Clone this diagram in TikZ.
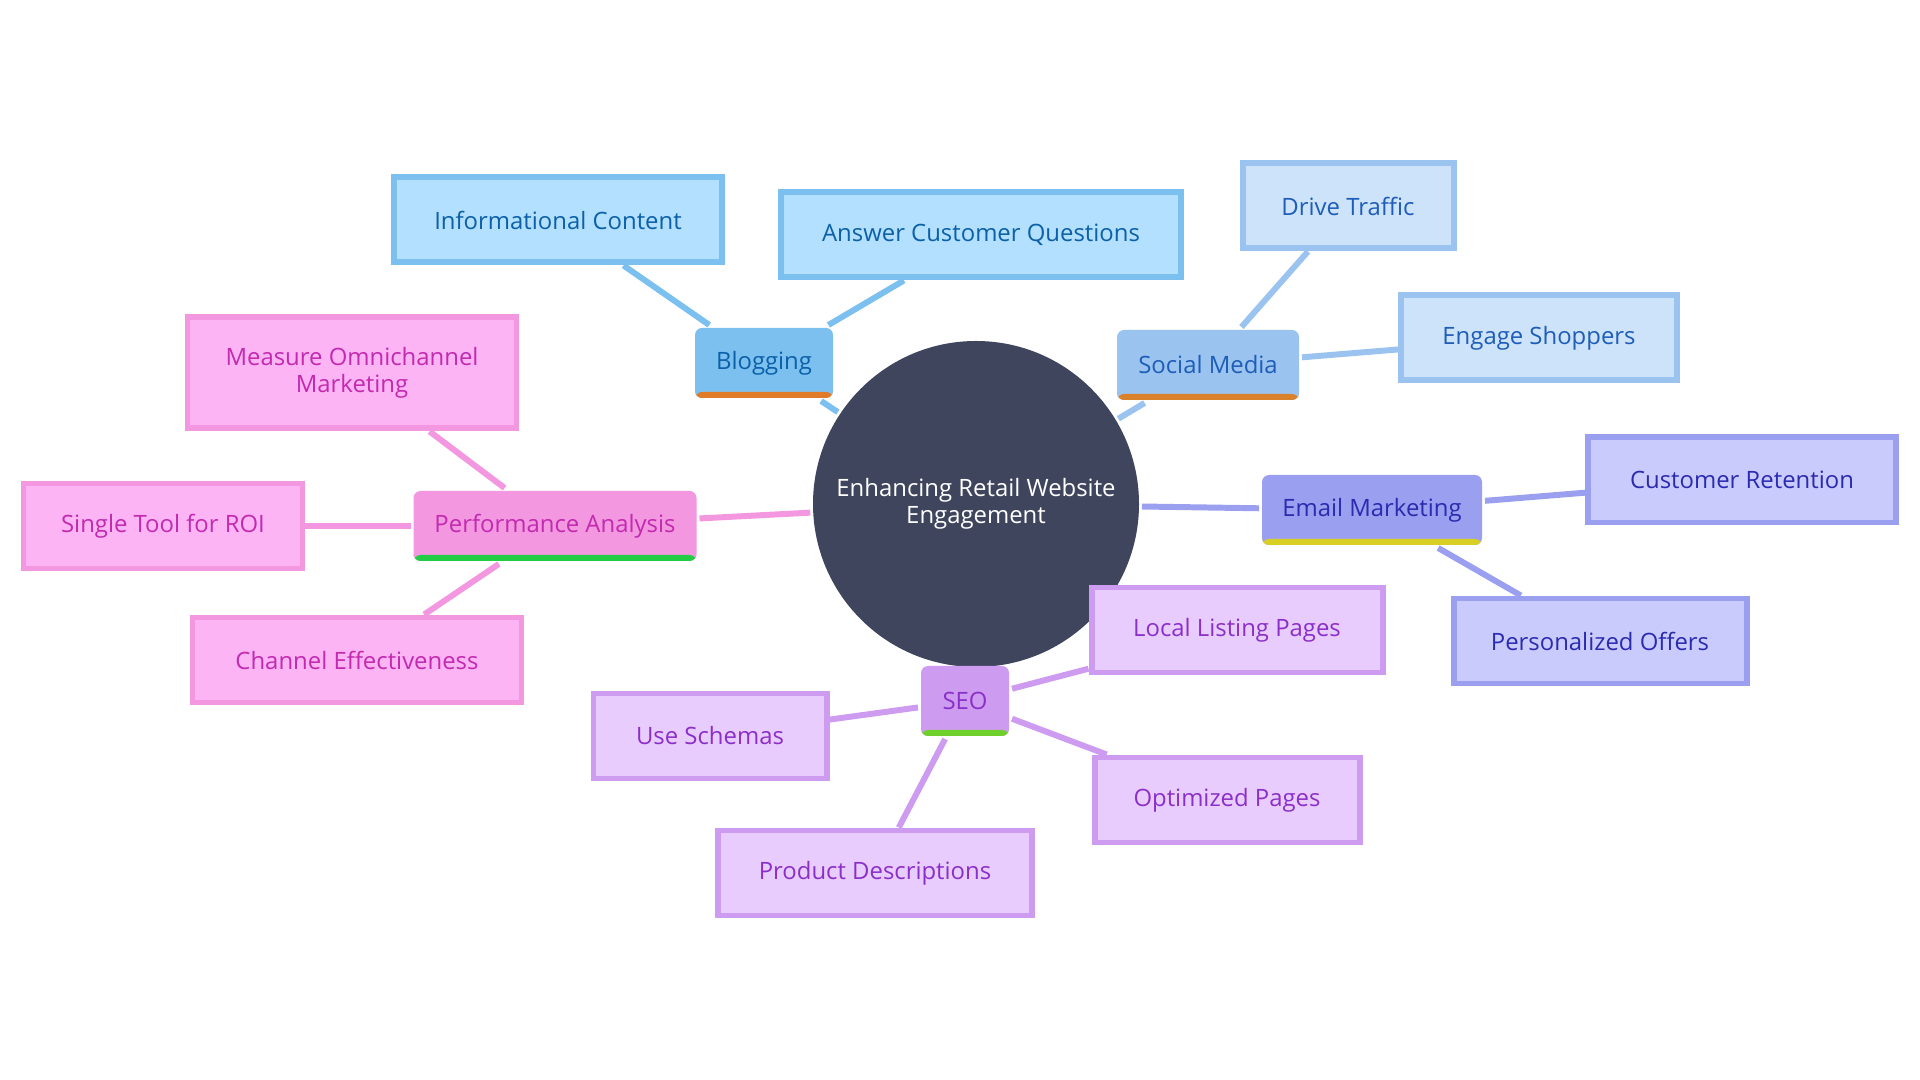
\documentclass[tikz,border=0pt]{standalone}
\usepackage{fontspec}
\setmainfont{Open Sans}
\usetikzlibrary{backgrounds}

\definecolor{rootfill}{HTML}{40455E}
\definecolor{blogfill}{HTML}{7CC0F0}
\definecolor{blogleaf}{HTML}{B3E0FF}
\definecolor{blogtext}{HTML}{0B60A8}
\definecolor{blogbar}{HTML}{E07B2A}
\definecolor{socfill}{HTML}{9AC3EF}
\definecolor{socleaf}{HTML}{CDE3FA}
\definecolor{soctext}{HTML}{1E5DB8}
\definecolor{socbar}{HTML}{D9822B}
\definecolor{mailfill}{HTML}{9B9FF0}
\definecolor{mailleaf}{HTML}{CACBFD}
\definecolor{mailtext}{HTML}{2B2BB0}
\definecolor{mailbar}{HTML}{D9CF24}
\definecolor{seofill}{HTML}{CD9BF0}
\definecolor{seoleaf}{HTML}{E8CCFD}
\definecolor{seotext}{HTML}{8B2FC9}
\definecolor{seobar}{HTML}{6FCF2B}
\definecolor{perffill}{HTML}{F297E0}
\definecolor{perfleaf}{HTML}{FDB4F4}
\definecolor{perftext}{HTML}{C22AB0}
\definecolor{perfbar}{HTML}{22CC44}

\begin{document}
\begin{tikzpicture}[line width=1.7pt,
        every node/.style={font=\fontsize{6.8}{7.8}\selectfont, align=center, inner sep=0pt},
        topic/.style n args={3}{fill=#1, text=#2, rounded corners=2pt, minimum height=0.70cm,
            path picture={\fill[#3] ([yshift=0.06cm]path picture bounding box.south west) rectangle (path picture bounding box.south east);}},
        leaf/.style n args={3}{fill=#1, draw=#2, text=#3, minimum height=0.85cm}]
        % Canvas
        \useasboundingbox (0,0) rectangle (19.2,10.8);

        % Root
        \node[circle, fill=rootfill, text=white, minimum size=3.26cm] (root) at (9.76,5.76) {Enhancing Retail Website\\Engagement};

        % Blogging
        \node[topic={blogfill}{blogtext}{blogbar}, minimum width=1.38cm] (blog) at (7.64,7.17) {Blogging};
        \node[leaf={blogleaf}{blogfill}{blogtext}, minimum width=3.28cm] (info) at (5.58,8.60) {Informational Content};
        \node[leaf={blogleaf}{blogfill}{blogtext}, minimum width=4.00cm] (answer) at (9.81,8.45) {Answer Customer Questions};

        % Social media
        \node[topic={socfill}{soctext}{socbar}, minimum width=1.82cm] (social) at (12.08,7.15) {Social Media};
        \node[leaf={socleaf}{socfill}{soctext}, minimum width=2.11cm] (traffic) at (13.48,8.74) {Drive Traffic};
        \node[leaf={socleaf}{socfill}{soctext}, minimum width=2.76cm] (engage) at (15.39,7.42) {Engage Shoppers};

        % Email marketing
        \node[topic={mailfill}{mailtext}{mailbar}, minimum width=2.20cm] (email) at (13.72,5.70) {Email Marketing};
        \node[leaf={mailleaf}{mailfill}{mailtext}, minimum width=3.08cm] (retention) at (17.42,6.00) {Customer Retention};
        \node[leaf={mailleaf}{mailfill}{mailtext}, minimum width=2.93cm] (offers) at (16.00,4.39) {Personalized Offers};

        % SEO
        \node[topic={seofill}{seotext}{seobar}, minimum width=0.88cm] (seo) at (9.65,3.79) {SEO};
        \node[leaf={seoleaf}{seofill}{seotext}, minimum width=2.91cm] (local) at (12.37,4.50) {Local Listing Pages};
        \node[leaf={seoleaf}{seofill}{seotext}, minimum width=2.33cm] (schemas) at (7.10,3.44) {Use Schemas};
        \node[leaf={seoleaf}{seofill}{seotext}, minimum width=2.65cm] (optimized) at (12.27,2.80) {Optimized Pages};
        \node[leaf={seoleaf}{seofill}{seotext}, minimum width=3.14cm] (product) at (8.75,2.07) {Product Descriptions};

        % Performance analysis
        \node[topic={perffill}{perftext}{perfbar}, minimum width=2.83cm] (perf) at (5.55,5.54) {Performance Analysis};
        \node[leaf={perfleaf}{perffill}{perftext}, minimum width=3.29cm, minimum height=1.11cm] (omni) at (3.52,7.07) {Measure Omnichannel\\Marketing};
        \node[leaf={perfleaf}{perffill}{perftext}, minimum width=2.79cm] (roi) at (1.63,5.54) {Single Tool for ROI};
        \node[leaf={perfleaf}{perffill}{perftext}, minimum width=3.29cm] (channel) at (3.57,4.20) {Channel Effectiveness};

        % Connectors
        \begin{scope}[on background layer={line width=1.7pt}]
            \draw[blogfill] (root) -- (blog);
            \draw[blogfill] (blog) -- (info);
            \draw[blogfill] (blog) -- (answer);
            \draw[socfill] (root) -- (social);
            \draw[socfill] (social) -- (traffic);
            \draw[socfill] (social) -- (engage);
            \draw[mailfill] (root) -- (email);
            \draw[mailfill] (email) -- (retention);
            \draw[mailfill] (email) -- (offers);
            \draw[seofill] (root) -- (seo);
            \draw[seofill] (seo) -- (local);
            \draw[seofill] (seo) -- (schemas);
            \draw[seofill] (seo) -- (optimized);
            \draw[seofill] (seo) -- (product);
            \draw[perffill] (root) -- (perf);
            \draw[perffill] (perf) -- (omni);
            \draw[perffill] (perf) -- (roi);
            \draw[perffill] (perf) -- (channel);
        \end{scope}
    \end{tikzpicture}
\end{document}
